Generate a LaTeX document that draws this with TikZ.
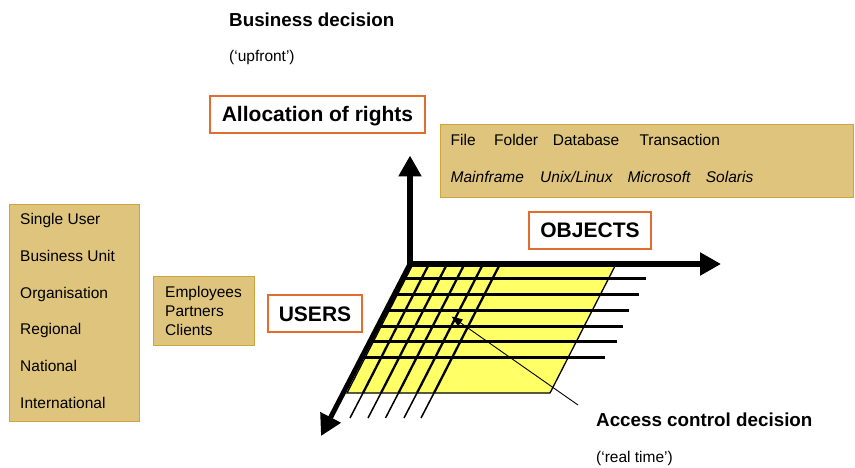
\documentclass[tikz,border=0pt]{standalone}
\usepackage{fontspec}
\setmainfont{Liberation Sans}
\usetikzlibrary{arrows.meta,positioning}

\definecolor{tan}{RGB}{222,196,124}
\definecolor{tanline}{RGB}{205,165,60}
\definecolor{rust}{RGB}{226,108,46}
\definecolor{plane}{RGB}{255,255,102}

\begin{document}
\begin{tikzpicture}[x=1pt,y=-1pt,
   lbl/.style={anchor=base west,inner sep=0pt,font=\fontsize{15.5}{18.5}\selectfont},
   title/.style={anchor=base west,inner sep=0pt,font=\fontsize{18.8}{22}\selectfont\bfseries},
   tag/.style={draw=rust,line width=1.3pt,fill=white,inner sep=0pt,minimum height=37pt,
               text height=15pt,text depth=0pt,font=\fontsize{21}{25}\selectfont\bfseries},
   tanbox/.style={draw=tanline,fill=tan,line width=1pt,anchor=north west,inner sep=0pt},
   axis/.style={line width=6pt,-{Triangle[length=21pt,width=22pt]}}]
   \useasboundingbox (0,0) rectangle (855,468);

   % decisions
   \node[title] (bizdec)  at (229,26.7)  {Business decision};
   \node[lbl]   (upfront) at (229,62)    {(‘upfront’)};
   \node[title] (acdec)   at (596,426.7) {Access control decision};
   \node[lbl]   (rtime)   at (596,462)   {(‘real time’)};

   % tan boxes
   \node[tanbox,minimum width=130pt,minimum height=217pt] (scopes) at (9,204) {};
   \node[tanbox,minimum width=101pt,minimum height=69pt]  (kinds)  at (153,276) {};
   \node[tanbox,minimum width=413pt,minimum height=73pt]  (things) at (440,124) {};

   \foreach \t [count=\i] in {Single User,Business Unit,Organisation,Regional,National,International}
      \node[lbl] (scope\i) at (20,{225+36.6*(\i-1)}) {\t};
   \foreach \t [count=\i] in {Employees,Partners,Clients}
      \node[lbl] (kind\i) at (165,{297.3+19.2*(\i-1)}) {\t};
   \foreach \x/\t [count=\i] in {450.5/File,494/Folder,552.7/Database,639.3/Transaction}
      \node[lbl] (obj\i) at (\x,145.7) {\t};
   \foreach \x/\t [count=\i] in {450.5/Mainframe,540/{Unix/Linux},627.3/Microsoft,705.7/Solaris}
      \node[lbl] (sys\i) at (\x,182.3) {\itshape\t};

   % tags
   \node[tag,minimum width=215pt] (rights)  at (317.5,114.5) {Allocation of rights};
   \node[tag,minimum width=94pt]  (users)   at (315,313.5)   {USERS};
   \node[tag,minimum width=122pt] (objects) at (590,230.5)   {OBJECTS};

   % the plane
   \draw[fill=plane,line width=1.3pt] (412,266) -- (615,266) -- (550,393) -- (347,393) -- cycle;
   \foreach \y/\xe in {278/646,294/639,310/629,326/623,341/617,357/605}
      \draw[line width=3pt] ({410-0.515*(\y-264)},\y) -- (\xe,\y);
   \foreach \xt in {428,446,463.5,482,499} {
      \draw[line width=2.3pt] (\xt,266) -- ({\xt-65},393);
      \draw[line width=1.5pt] ({\xt-65},393) -- ({\xt-78},418);
   }

   % axes
   \coordinate (O)     at (410,264);
   \coordinate (up)    at (410,155.5);
   \coordinate (right) at (721,264);
   \coordinate (low)   at (321,436);
   \draw[axis] ([yshift=-3pt]O) -- (up);
   \draw[axis] ([xshift=-3pt]O) -- (right);
   \draw[axis,line width=5pt] (O) -- (low);

   % pointer
   \coordinate (ptr)  at (578,405);
   \coordinate (cell) at (451.5,316.5);
   \draw[line width=0.9pt,-{Triangle[length=11pt,width=8pt]}] (ptr) -- (cell);
\end{tikzpicture}
\end{document}
